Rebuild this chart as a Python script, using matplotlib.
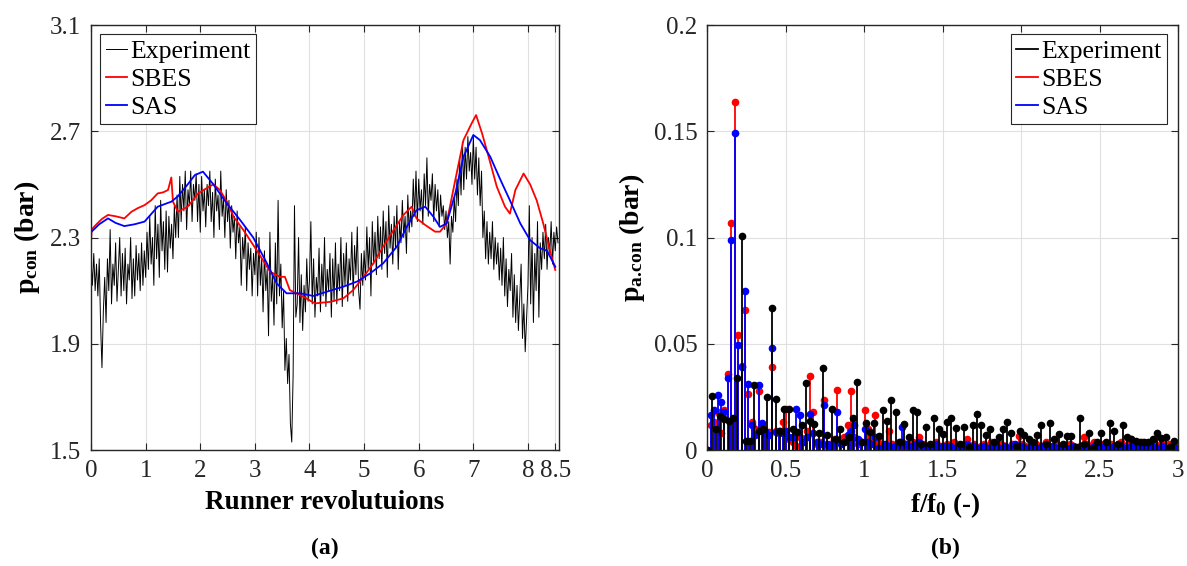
import numpy as np
import matplotlib
matplotlib.use('Agg')
import matplotlib.pyplot as plt
from matplotlib.lines import Line2D

plt.rcParams['font.family'] = ['Liberation Serif', 'DejaVu Serif']
plt.rcParams['mathtext.fontset'] = 'custom'
plt.rcParams['mathtext.rm'] = 'Liberation Serif'
plt.rcParams['mathtext.bf'] = 'Liberation Serif:bold'
plt.rcParams['mathtext.it'] = 'Liberation Serif:italic'

# ---- (a) pressure vs runner revolutions ----
# experiment, sampled every 0.025 rev from 0 to 8.55
exp_p = [
    2.22, 2.12, 2.24, 2.10, 2.20, 2.08, 2.22, 1.97, 1.81, 2.02, 2.15, 1.98, 2.22, 2.10, 2.33, 2.05, 2.20, 2.12, 2.28, 2.06,
    2.18, 2.30, 2.08, 2.24, 2.10, 2.26, 2.05, 2.20, 2.14, 2.30, 2.07, 2.22, 2.08, 2.27, 2.14, 2.24, 2.10, 2.28, 2.12, 2.25,
    2.15, 2.32, 2.18, 2.38, 2.20, 2.30, 2.12, 2.42, 2.22, 2.35, 2.15, 2.44, 2.25, 2.36, 2.18, 2.40, 2.17, 2.38, 2.26, 2.35,
    2.22, 2.42, 2.30, 2.46, 2.30, 2.53, 2.36, 2.50, 2.40, 2.55, 2.33, 2.48, 2.42, 2.55, 2.36, 2.50, 2.44, 2.54, 2.36, 2.50,
    2.32, 2.53, 2.40, 2.48, 2.34, 2.50, 2.42, 2.55, 2.36, 2.47, 2.30, 2.52, 2.40, 2.46, 2.33, 2.55, 2.38, 2.45, 2.30, 2.48,
    2.36, 2.44, 2.26, 2.42, 2.32, 2.38, 2.22, 2.40, 2.28, 2.34, 2.12, 2.30, 2.22, 2.34, 2.10, 2.28, 2.18, 2.26, 2.08, 2.24,
    2.16, 2.32, 2.08, 2.30, 2.12, 2.22, 2.02, 2.25, 2.10, 2.18, 1.93, 2.32, 2.06, 2.16, 1.97, 2.28, 2.05, 2.44, 2.08, 2.20,
    1.96, 2.10, 1.80, 1.92, 1.75, 1.86, 1.60, 1.53, 1.78, 2.42, 2.00, 2.05, 2.30, 1.98, 2.16, 1.95, 2.12, 2.02, 2.22, 2.06,
    2.14, 2.36, 2.05, 2.22, 2.00, 2.15, 2.08, 2.26, 2.02, 2.20, 2.08, 2.30, 2.04, 2.18, 2.10, 2.24, 2.00, 2.22, 2.06, 2.28,
    2.05, 2.20, 2.10, 2.30, 2.04, 2.24, 2.12, 2.28, 2.06, 2.22, 2.14, 2.32, 2.08, 2.27, 2.16, 2.34, 2.10, 2.03, 2.24, 2.12,
    2.25, 2.14, 2.34, 2.18, 2.30, 2.08, 2.36, 2.20, 2.32, 2.16, 2.38, 2.22, 2.34, 2.18, 2.40, 2.24, 2.36, 2.15, 2.42, 2.26,
    2.35, 2.20, 2.38, 2.26, 2.42, 2.18, 2.36, 2.28, 2.44, 2.30, 2.38, 2.24, 2.46, 2.32, 2.40, 2.34, 2.52, 2.38, 2.55, 2.36,
    2.52, 2.40, 2.48, 2.35, 2.54, 2.42, 2.60, 2.38, 2.50, 2.44, 2.54, 2.36, 2.50, 2.40, 2.48, 2.34, 2.46, 2.38, 2.42, 2.33,
    2.40, 2.30, 2.36, 2.20, 2.38, 2.32, 2.45, 2.36, 2.52, 2.42, 2.60, 2.46, 2.66, 2.48, 2.64, 2.52, 2.68, 2.55, 2.62, 2.50,
    2.68, 2.52, 2.64, 2.46, 2.60, 2.42, 2.55, 2.30, 2.40, 2.22, 2.36, 2.20, 2.32, 2.22, 2.36, 2.18, 2.30, 2.20, 2.28, 2.14,
    2.26, 2.12, 2.30, 2.08, 2.22, 2.04, 2.18, 2.10, 2.24, 2.00, 2.16, 1.98, 2.12, 1.95, 2.08, 2.20, 1.92, 2.05, 1.87, 2.00,
    2.12, 2.42, 2.05, 2.30, 1.98, 2.24, 2.10, 2.36, 2.00, 2.28, 2.18, 2.32, 2.22, 2.35, 2.18, 2.30, 2.24, 2.36, 2.20, 2.32,
    2.25, 2.34, 2.28,
]

sbes_t = [0.0, 0.01, 0.1, 0.2, 0.31, 0.45, 0.61, 0.74, 0.85, 0.98, 1.1, 1.22, 1.32, 1.41, 1.47, 1.50, 1.59,
          1.77, 1.96, 2.11, 2.24, 2.36, 2.5, 2.61, 2.79, 3.03, 3.28, 3.46, 3.55, 3.64, 3.89, 4.10, 4.38,
          4.62, 4.80, 4.99, 5.17, 5.35, 5.54, 5.72, 5.87, 5.96, 6.12, 6.30, 6.39, 6.51, 6.67, 6.82, 6.97,
          7.05, 7.16, 7.28, 7.43, 7.58, 7.67, 7.77, 7.92, 8.04, 8.16, 8.28, 8.40, 8.50]
sbes_p = [2.28, 2.33, 2.35, 2.37, 2.385, 2.38, 2.372, 2.397, 2.41, 2.422, 2.44, 2.466, 2.47, 2.479, 2.526, 2.435, 2.397,
          2.416, 2.466, 2.485, 2.50, 2.479, 2.43, 2.378, 2.328, 2.253, 2.171, 2.152, 2.152, 2.102, 2.077, 2.052, 2.058,
          2.071, 2.102, 2.152, 2.203, 2.266, 2.328, 2.385, 2.416, 2.372, 2.347, 2.322, 2.322, 2.353, 2.517, 2.667, 2.73,
          2.761, 2.692, 2.604, 2.491, 2.416, 2.39, 2.479, 2.541, 2.50, 2.44, 2.353, 2.253, 2.178]

sas_t = [0.0, 0.05, 0.15, 0.31, 0.45, 0.61, 0.8, 0.98, 1.22, 1.47, 1.59, 1.77, 1.90, 2.05, 2.24, 2.48, 2.73,
         2.97, 3.22, 3.40, 3.58, 3.83, 4.07, 4.38, 4.62, 4.87, 5.11, 5.35, 5.60, 5.78, 5.96, 6.12, 6.27,
         6.39, 6.51, 6.67, 6.82, 7.0, 7.12, 7.31, 7.49, 7.67, 7.86, 8.04, 8.22, 8.35, 8.50]
sas_p = [2.32, 2.33, 2.35, 2.372, 2.355, 2.343, 2.35, 2.36, 2.416, 2.435, 2.455, 2.50, 2.535, 2.548, 2.50, 2.43, 2.366,
         2.30, 2.203, 2.127, 2.09, 2.09, 2.08, 2.10, 2.115, 2.134, 2.165, 2.203, 2.266, 2.34, 2.403, 2.416, 2.378,
         2.34, 2.353, 2.466, 2.604, 2.686, 2.667, 2.604, 2.52, 2.44, 2.353, 2.29, 2.26, 2.25, 2.19]

# ---- (b) amplitude spectra ----
exp_df = 0.0273
exp_amp = [
    0.000, 0.0253, 0.0097, 0.016, 0.0144, 0.0138, 0.015, 0.034, 0.1005, 0.0044,
    0.0044, 0.0305, 0.009, 0.010, 0.025, 0.067, 0.024, 0.009, 0.0195, 0.0195,
    0.0097, 0.0086, 0.012, 0.0316, 0.0138, 0.0123, 0.008, 0.0386, 0.007, 0.0195,
    0.005, 0.010, 0.004, 0.006, 0.015, 0.032, 0.004, 0.0128, 0.0086, 0.0125,
    0.0066, 0.019, 0.0136, 0.0234, 0.0177, 0.0036, 0.0122, 0.006, 0.019, 0.0177,
    0.003, 0.011, 0.003, 0.015, 0.010, 0.0075, 0.013, 0.015, 0.0106, 0.003,
    0.011, 0.0016, 0.012, 0.017, 0.012, 0.007, 0.010, 0.004, 0.006, 0.010,
    0.013, 0.008, 0.002, 0.009, 0.007, 0.005, 0.004, 0.007, 0.0117, 0.003,
    0.0128, 0.005, 0.0075, 0.003, 0.0066, 0.0066, 0.0016, 0.015, 0.003, 0.008,
    0.001, 0.004, 0.008, 0.0036, 0.0125, 0.009, 0.003, 0.012, 0.006, 0.005,
    0.0044, 0.004, 0.004, 0.004, 0.005, 0.008, 0.0055, 0.006, 0.0016, 0.0044,
]

cfd_df = 0.0218
sbes_amp = [
    0.000, 0.0117, 0.0133, 0.018, 0.008, 0.0187, 0.036, 0.1066, 0.164, 0.054,
    0.0395, 0.066, 0.0266, 0.0133, 0.010, 0.028, 0.0117, 0.008, 0.0086, 0.039,
    0.009, 0.008, 0.0133, 0.0195, 0.005, 0.004, 0.002, 0.006, 0.005, 0.009,
    0.0347, 0.018, 0.003, 0.004, 0.0237, 0.002, 0.003, 0.005, 0.0284, 0.005,
    0.006, 0.012, 0.028, 0.006, 0.003, 0.004, 0.0187, 0.010, 0.006, 0.0164,
    0.004, 0.002, 0.002, 0.009, 0.003, 0.002, 0.003, 0.004, 0.002, 0.003,
    0.004, 0.002, 0.006, 0.003, 0.002, 0.001, 0.003, 0.004, 0.002, 0.001,
    0.003, 0.002, 0.004, 0.002, 0.001, 0.003, 0.005, 0.002, 0.003, 0.001,
    0.002, 0.003, 0.002, 0.004, 0.001, 0.002, 0.003, 0.002, 0.001, 0.003,
    0.002, 0.0066, 0.003, 0.002, 0.001, 0.002, 0.003, 0.001, 0.002, 0.004,
    0.002, 0.001, 0.003, 0.002, 0.001, 0.002, 0.003, 0.002, 0.001, 0.002,
    0.006, 0.003, 0.002, 0.004, 0.002, 0.003, 0.001, 0.002, 0.003, 0.002,
    0.003, 0.004, 0.002, 0.003, 0.005, 0.003, 0.002, 0.004, 0.002, 0.003,
    0.002, 0.003, 0.002, 0.004, 0.002, 0.003, 0.002, 0.003,
]
sas_amp = [
    0.000, 0.0164, 0.019, 0.026, 0.0227, 0.018, 0.034, 0.099, 0.149, 0.0495,
    0.039, 0.075, 0.031, 0.0117, 0.007, 0.0305, 0.0125, 0.009, 0.007, 0.048,
    0.0086, 0.009, 0.008, 0.009, 0.006, 0.006, 0.0195, 0.0164, 0.004, 0.006,
    0.017, 0.008, 0.004, 0.003, 0.021, 0.003, 0.002, 0.004, 0.018, 0.003,
    0.004, 0.007, 0.009, 0.012, 0.005, 0.004, 0.010, 0.004, 0.003, 0.006,
    0.001, 0.001, 0.003, 0.002, 0.001, 0.002, 0.004, 0.011, 0.003, 0.002,
    0.001, 0.003, 0.004, 0.002, 0.001, 0.002, 0.001, 0.003, 0.001, 0.002,
    0.001, 0.002, 0.001, 0.001, 0.002, 0.001, 0.003, 0.001, 0.002, 0.001,
    0.001, 0.002, 0.001, 0.001, 0.002, 0.001, 0.001, 0.002, 0.001, 0.001,
    0.003, 0.001, 0.002, 0.001, 0.001, 0.002, 0.001, 0.001, 0.002, 0.001,
    0.001, 0.002, 0.001, 0.001, 0.002, 0.001, 0.001, 0.002, 0.001, 0.001,
    0.002, 0.001, 0.001, 0.002, 0.001, 0.001, 0.002, 0.001, 0.001, 0.002,
    0.001, 0.002, 0.001, 0.001, 0.002, 0.001, 0.001, 0.002, 0.001, 0.001,
    0.002, 0.001, 0.001, 0.002, 0.001, 0.001, 0.002, 0.001,
]


def style_axes(ax):
    ax.grid(True, color='#e0e0e0', linewidth=0.8)
    ax.set_axisbelow(True)
    ax.tick_params(direction='in', top=True, right=True, length=5, width=0.8,
                   labelsize=18, colors='#262626', pad=7)
    for s in ax.spines.values():
        s.set_color('#262626')
        s.set_linewidth(1.0)


def legend_box(ax, handles, labels, anchor, loc):
    leg = ax.legend(handles, labels, loc=loc, bbox_to_anchor=anchor, fontsize=18.5,
                    handlelength=0.85, handletextpad=0.12, labelspacing=0.2,
                    borderpad=0.22, borderaxespad=0, fancybox=False, framealpha=1)
    leg.get_frame().set_edgecolor('#262626')
    leg.get_frame().set_linewidth(0.8)
    return leg


fig = plt.figure(figsize=(11.87, 5.66), dpi=100)
ax1 = fig.add_axes([0.0767, 0.2049, 0.3943, 0.7509])
ax2 = fig.add_axes([0.5959, 0.2049, 0.3965, 0.7509])

# panel (a)
t_exp = np.linspace(0, 8.55, len(exp_p))
l1, = ax1.plot(t_exp, exp_p, color='k', lw=0.7)
l2, = ax1.plot(sbes_t, sbes_p, color='r', lw=1.3)
l3, = ax1.plot(sas_t, sas_p, color='b', lw=1.3)
ax1.set_xlim(0, 8.57)
ax1.set_ylim(1.5, 3.1)
ax1.set_xticks([0, 1, 2, 3, 4, 5, 6, 7, 8, 8.5])
ax1.set_xticklabels(['0', '1', '2', '3', '4', '5', '6', '7', '8', '8.5'])
ax1.set_yticks([1.5, 1.9, 2.3, 2.7, 3.1])
ax1.set_yticklabels(['1.5', '1.9', '2.3', '2.7', '3.1'])
style_axes(ax1)
ax1.set_xlabel('Runner revolutuions', fontsize=19.5, fontweight='bold')
ax1.xaxis.set_label_coords(0.5, -0.094)
ax1.set_ylabel(r'$\mathbf{p_{con}}$ (bar)', fontsize=20, fontweight='bold')
ax1.yaxis.set_label_coords(-0.105, 0.5)
legend_box(ax1, [l1, l2, l3], ['Experiment', 'SBES', 'SAS'], (0.019, 0.979), 'upper left')

# panel (b)
f_exp = np.arange(len(exp_amp)) * exp_df
f_cfd = np.arange(len(sbes_amp)) * cfd_df
for f, amp, c in [(f_cfd, sbes_amp, 'r'), (f_cfd, sas_amp, 'b'), (f_exp, exp_amp, 'k')]:
    ml, sl, bl = ax2.stem(f, amp, linefmt='-', markerfmt='o', basefmt=' ')
    plt.setp(sl, color=c, linewidth=1.3)
    plt.setp(ml, color=c, markersize=4.5)
ax2.set_xlim(0, 3)
ax2.set_ylim(0, 0.2)
ax2.set_xticks([0, 0.5, 1, 1.5, 2, 2.5, 3])
ax2.set_xticklabels(['0', '0.5', '1', '1.5', '2', '2.5', '3'])
ax2.set_yticks([0, 0.05, 0.1, 0.15, 0.2])
ax2.set_yticklabels(['0', '0.05', '0.1', '0.15', '0.2'])
style_axes(ax2)
ax2.set_xlabel(r'$\mathbf{f/f_0}$ (-)', fontsize=19.5, fontweight='bold')
ax2.xaxis.set_label_coords(0.505, -0.094)
ax2.set_ylabel(r'$\mathbf{p_{a.\!con}}$ (bar)', fontsize=20, fontweight='bold')
ax2.yaxis.set_label_coords(-0.128, 0.5)
h = [Line2D([], [], color=c, lw=1.3) for c in ('k', 'r', 'b')]
legend_box(ax2, h, ['Experiment', 'SBES', 'SAS'], (1 - 10.7 / 470.7, 0.979), 'upper right')

fig.text(325 / 1187, 1 - 548 / 566, '(a)', fontsize=17, fontweight='bold', ha='center', va='center')
fig.text(945 / 1187, 1 - 548 / 566, '(b)', fontsize=17, fontweight='bold', ha='center', va='center')

fig.savefig('out.png', dpi=100)
